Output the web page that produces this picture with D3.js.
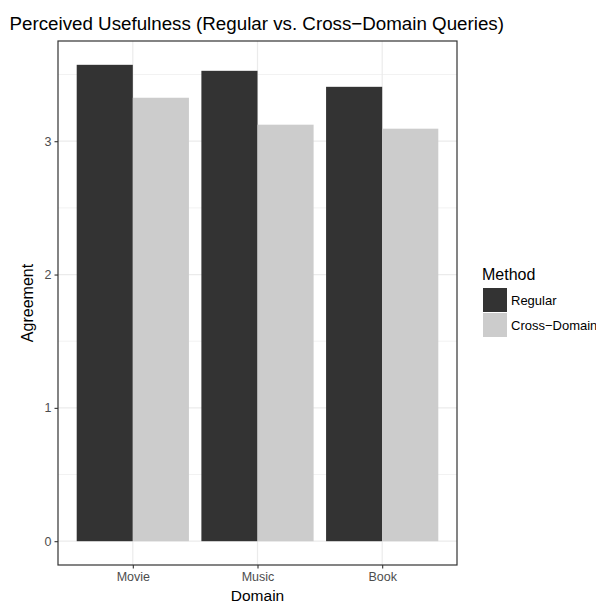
<!DOCTYPE html>
<html>
<head>
<meta charset="utf-8">
<script src="https://cdn.jsdelivr.net/npm/d3@7"></script>
<style>
  html, body { margin: 0; padding: 0; background: #fff; }
  svg { display: block; font-family: "Liberation Sans", Arial, Helvetica, sans-serif; }
</style>
</head>
<body>
<svg id="chart" width="596" height="603"></svg>
<script>
// Mean agreement per domain, split by query method
const domains = ["Movie", "Music", "Book"];
const methods = ["Regular", "Cross\u2212Domain"];
const regularValues = [3.573, 3.528, 3.408];
const crossDomainValues = [3.326, 3.124, 3.094];
const yTicks = [0, 1, 2, 3];
const yMinorTicks = [0.5, 1.5, 2.5, 3.5];
const methodColors = ["#333333", "#CCCCCC"];
const titleText = "Perceived Usefulness (Regular vs. Cross\u2212Domain Queries)";

const rows = domains.map((d, i) => ({
  domain: d,
  values: [
    { method: methods[0], value: regularValues[i] },
    { method: methods[1], value: crossDomainValues[i] }
  ]
}));

const svg = d3.select("#chart");
const panel = { left: 58, right: 457, top: 41, bottom: 565 };

// Continuous y scale with 5% expansion on both ends
const yMax = d3.max(regularValues.concat(crossDomainValues));
const pad = yMax * 0.05;
const y = d3.scaleLinear()
  .domain([-pad, yMax + pad])
  .range([panel.bottom, panel.top]);

// Discrete x positions with 0.6 unit padding on each side
const xc = d3.scaleLinear()
  .domain([0.4, domains.length + 0.6])
  .range([panel.left, panel.right]);
const unit = xc(2) - xc(1);

const color = d3.scaleOrdinal().domain(methods).range(methodColors);

// Panel background
svg.append("rect")
  .attr("x", panel.left).attr("y", panel.top)
  .attr("width", panel.right - panel.left).attr("height", panel.bottom - panel.top)
  .attr("fill", "#fff");

const grid = svg.append("g");
// minor horizontal grid
grid.selectAll("line.minor").data(yMinorTicks.filter(t => y(t) > panel.top)).join("line")
  .attr("x1", panel.left).attr("x2", panel.right)
  .attr("y1", d => y(d)).attr("y2", d => y(d))
  .attr("stroke", "#F2F2F2").attr("stroke-width", 1);
// major horizontal grid
grid.selectAll("line.majorY").data(yTicks).join("line")
  .attr("x1", panel.left).attr("x2", panel.right)
  .attr("y1", d => y(d)).attr("y2", d => y(d))
  .attr("stroke", "#EBEBEB").attr("stroke-width", 1.2);
// major vertical grid at categories
grid.selectAll("line.majorX").data(domains).join("line")
  .attr("x1", (d, i) => xc(i + 1)).attr("x2", (d, i) => xc(i + 1))
  .attr("y1", panel.top).attr("y2", panel.bottom)
  .attr("stroke", "#EBEBEB").attr("stroke-width", 1.2);

// Dodged bars: total width 0.9 per category
const barW = unit * 0.45;
const groups = svg.append("g").selectAll("g").data(rows).join("g");
groups.selectAll("rect").data((d, i) => d.values.map((v, j) => ({ ...v, idx: i, j }))).join("rect")
  .attr("x", d => xc(d.idx + 1) - barW + d.j * barW)
  .attr("width", barW)
  .attr("y", d => y(d.value))
  .attr("height", d => y(0) - y(d.value))
  .attr("fill", d => color(d.method));

// Panel border
svg.append("rect")
  .attr("x", panel.left).attr("y", panel.top)
  .attr("width", panel.right - panel.left).attr("height", panel.bottom - panel.top)
  .attr("fill", "none").attr("stroke", "#333333").attr("stroke-width", 1.2);

// Y axis
const yAxis = svg.append("g").attr("transform", `translate(${panel.left},0)`)
  .call(d3.axisLeft(y).tickValues(yTicks).tickFormat(d3.format("d")).tickSize(3.5).tickPadding(3));
yAxis.select(".domain").remove();
yAxis.selectAll(".tick line").attr("stroke", "#333333").attr("stroke-width", 1.1);
yAxis.selectAll(".tick text").attr("fill", "#4D4D4D").style("font-size", "12.5px")
  .style("font-family", "'Liberation Sans', Arial, sans-serif");

// X axis
const xAxis = svg.append("g").attr("transform", `translate(0,${panel.bottom})`)
  .call(d3.axisBottom(xc).tickValues(domains.map((d, i) => i + 1))
    .tickFormat(v => domains[v - 1]).tickSize(3.5).tickPadding(3.5));
xAxis.select(".domain").remove();
xAxis.selectAll(".tick line").attr("stroke", "#333333").attr("stroke-width", 1.1);
xAxis.selectAll(".tick text").attr("fill", "#4D4D4D").style("font-size", "12.5px")
  .style("font-family", "'Liberation Sans', Arial, sans-serif");

// Axis titles
svg.append("text")
  .attr("x", (panel.left + panel.right) / 2).attr("y", 601)
  .attr("text-anchor", "middle").attr("fill", "#000").style("font-size", "15.5px")
  .text("Domain");
svg.append("text")
  .attr("transform", `translate(33,${(panel.top + panel.bottom) / 2}) rotate(-90)`)
  .attr("text-anchor", "middle").attr("fill", "#000").style("font-size", "16px")
  .text("Agreement");

// Title: sized from the width of its tail, right end at x=504; it runs past the left edge
const probe = svg.append("text").style("font-size", "17px")
  .text(titleText.slice(titleText.indexOf("Usefulness")));
const tailLen = probe.node().getComputedTextLength();
probe.remove();
const titleSize = 17 * 406 / tailLen;
svg.append("text")
  .attr("x", 504).attr("y", 30)
  .attr("text-anchor", "end").attr("fill", "#000").style("font-size", titleSize + "px")
  .text(titleText);

// Legend
const legend = svg.append("g").attr("transform", "translate(482,0)");
legend.append("text").attr("x", 0).attr("y", 280)
  .attr("fill", "#000").style("font-size", "16px").text("Method");
const keySize = 24;
const items = legend.selectAll("g.item").data(methods).join("g")
  .attr("transform", (d, i) => `translate(1,${288 + i * (keySize + 1)})`);
items.append("rect").attr("width", keySize).attr("height", keySize)
  .attr("fill", d => color(d));
items.append("text").attr("x", keySize + 4).attr("y", keySize / 2 + 4.5)
  .attr("fill", "#000").style("font-size", "13px").text(d => d);
</script>
</body>
</html>
